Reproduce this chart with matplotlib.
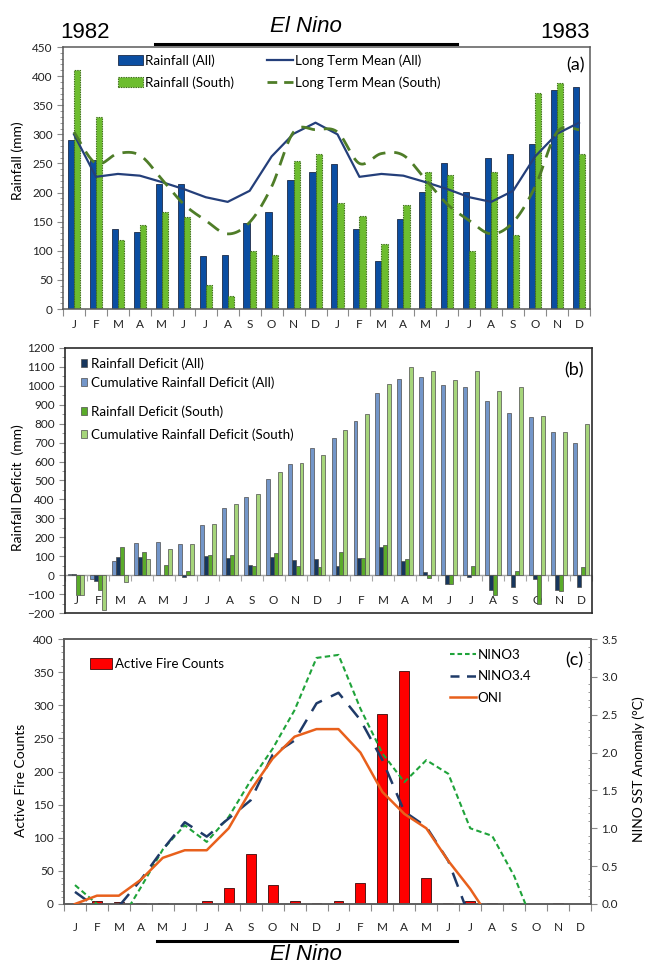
import numpy as np
import matplotlib
matplotlib.use("Agg")
import matplotlib.pyplot as plt
from matplotlib.patches import Patch
from matplotlib.lines import Line2D
from matplotlib.ticker import MultipleLocator, FixedLocator, FixedFormatter, NullFormatter, FormatStrFormatter

plt.rcParams['font.family'] = ['Lato', 'DejaVu Sans']

# ---------------- data ----------------
months = ['J', 'F', 'M', 'A', 'M', 'J', 'J', 'A', 'S', 'O', 'N', 'D',
          'J', 'F', 'M', 'A', 'M', 'J', 'J', 'A', 'S', 'O', 'N', 'D']

# (a) monthly rainfall, Jan 1982 - Dec 1983 (mm)
rain_all = [290, 256, 137, 133, 215, 215, 91, 92, 147, 166, 221, 236,
            249, 138, 83, 155, 201, 251, 201, 260, 267, 284, 376, 381]
rain_south = [410, 330, 119, 144, 166, 158, 41, 23, 100, 93, 254, 266,
              182, 159, 111, 179, 236, 231, 100, 235, 127, 371, 388, 267]
ltm_all = [300, 227, 232, 229, 218, 206, 192, 184, 203, 262, 301, 320,
           300, 227, 232, 229, 218, 206, 192, 184, 203, 262, 301, 320]
ltm_south = [304, 250, 267, 264, 223, 180, 152, 129, 149, 210, 304, 308,
             304, 250, 267, 264, 223, 180, 152, 129, 149, 210, 304, 308]

# (b) rainfall deficits (mm)
def_all = [5, -30, 95, 97, 3, -10, 100, 91, 56, 95, 81, 85,
           49, 90, 150, 77, 16, -46, -9, -76, -65, -23, -76, -62]
cum_all = [5, -20, 76, 170, 174, 164, 263, 357, 411, 506, 585, 671,
           722, 815, 963, 1037, 1048, 1004, 993, 919, 856, 833, 757, 697]
def_south = [-105, -80, 150, 120, 55, 22, 108, 105, 48, 117, 48, 42,
             121, 92, 158, 85, -16, -49, 49, -107, 23, -150, -85, 42]
cum_south = [-105, -185, -35, 85, 140, 163, 270, 375, 428, 546, 595, 637,
             766, 852, 1011, 1099, 1081, 1032, 1081, 972, 996, 840, 754, 798]

# (c) active fire counts and NINO SST anomalies (deg C)
fire_counts = [0, 4, 3, 2, 1, 0, 4, 24, 75, 28, 5, 2,
               4, 32, 287, 352, 39, 2, 5, 2, 1, 0, 1, 0]
nino3 = [0.25, 0.0, -0.26, 0.22, 0.72, 1.04, 0.82, 1.15, 1.63, 2.05, 2.56, 3.25,
         3.29, 2.58, 1.99, 1.61, 1.90, 1.72, 1.00, 0.90, 0.37, -0.35, -0.5, -0.5]
nino34 = [0.16, -0.05, -0.03, 0.32, 0.72, 1.08, 0.89, 1.13, 1.37, 1.97, 2.16, 2.65,
          2.79, 2.43, 1.90, 1.22, 1.02, 0.57, -0.2, -0.4, -0.5, -0.6, -0.7, -0.7]
oni = [0.0, 0.11, 0.11, 0.32, 0.61, 0.71, 0.71, 1.00, 1.50, 1.92, 2.21, 2.31,
       2.31, 2.00, 1.48, 1.19, 1.00, 0.57, 0.20, -0.24, -0.5, -0.8, -0.9, -0.8]


def smooth_curve(xv, yv, n=24):
    """Bezier-smoothed path through the points (spreadsheet-style smoothed line)."""
    pts = np.column_stack([xv, yv]).astype(float)
    P = np.vstack([pts[0], pts, pts[-1]])
    t = np.linspace(0, 1, n, endpoint=False)[:, None]
    out = []
    for i in range(1, len(P) - 2):
        p0, p1, p2, p3 = P[i - 1], P[i], P[i + 1], P[i + 2]
        c1 = p1 + (p2 - p0) / 6.0
        c2 = p2 - (p3 - p1) / 6.0
        seg = ((1 - t) ** 3) * p1 + 3 * (1 - t) ** 2 * t * c1 + 3 * (1 - t) * t ** 2 * c2 + t ** 3 * p2
        out.append(seg)
    out.append(pts[-1:])
    out = np.vstack(out)
    return out[:, 0], out[:, 1]


W, H = 646, 964
fig = plt.figure(figsize=(W / 100, H / 100), dpi=100)


def rect(l, t, r, b):
    return [l / W, 1 - b / H, (r - l) / W, (b - t) / H]


x = np.arange(len(months))
edges = np.arange(-0.5, len(months), 1.0)
TICK_FS = 8.5
LEG_FS = 9.6
LAB_FS = 10
FRAME = '#5a5a5a'


def month_axis(ax, pad):
    ax.set_xlim(-0.5, len(months) - 0.5)
    ax.xaxis.set_major_locator(FixedLocator(edges))
    ax.xaxis.set_major_formatter(NullFormatter())
    ax.xaxis.set_minor_locator(FixedLocator(x))
    ax.xaxis.set_minor_formatter(FixedFormatter(months))
    ax.tick_params(axis='x', which='minor', length=0, pad=pad, labelsize=TICK_FS, colors='#222222')
    ax.tick_params(axis='x', which='major', length=5, width=0.8, color='#8a8a8a', direction='out')


def frame(ax, color=FRAME, lw=1.1):
    for s in ax.spines.values():
        s.set_color(color)
        s.set_linewidth(lw)


# ---------------- (a) rainfall ----------------
ax_a = fig.add_axes(rect(63, 47, 590, 309))
bw = 0.28
ax_a.bar(x - bw / 2, rain_all, bw, color='#0b4ea2', edgecolor='#1c2b48', linewidth=0.6, zorder=2)
ax_a.bar(x + bw / 2, rain_south, bw, color='#6dbd2f', edgecolor='#3f6e1a', linewidth=0.8,
         linestyle=(0, (1.2, 1.0)), zorder=2)
ax_a.plot(x, ltm_all, color='#243f7a', linewidth=1.6, zorder=3)
sx, sy = smooth_curve(x, ltm_south)
ax_a.plot(sx, sy, color='#4f7d28', linewidth=2.0, dashes=(5, 3.2), zorder=3)
ax_a.set_ylim(0, 450)
ax_a.yaxis.set_major_locator(MultipleLocator(50))
ax_a.yaxis.set_minor_locator(MultipleLocator(10))
ax_a.tick_params(axis='y', which='major', length=4, labelsize=TICK_FS, color='#8a8a8a', colors='#222222')
ax_a.tick_params(axis='y', which='minor', length=2, color='#8a8a8a')
month_axis(ax_a, pad=7)
frame(ax_a)
handles_a = [Patch(facecolor='#0b4ea2', edgecolor='#1c2b48', linewidth=0.6),
             Patch(facecolor='#6dbd2f', edgecolor='#3f6e1a', linewidth=0.8, linestyle=(0, (1.2, 1.0))),
             Line2D([], [], color='#243f7a', linewidth=1.6),
             Line2D([], [], color='#4f7d28', linewidth=2.0, dashes=(3.5, 2.5))]
labels_a = ['Rainfall (All)', 'Rainfall (South)', 'Long Term Mean (All)', 'Long Term Mean (South)']
ax_a.legend(handles_a, labels_a, ncol=2, loc='upper left', bbox_to_anchor=(0.104, 0.972),
            frameon=False, fontsize=LEG_FS, handlelength=1.9, handleheight=0.8, handletextpad=0.15,
            columnspacing=2.5, labelspacing=0.7, borderaxespad=0, borderpad=0)
ax_a.text(0.99, 0.93, '(a)', transform=ax_a.transAxes, ha='right', va='center', fontsize=13)

# ---------------- (b) deficits ----------------
ax_b = fig.add_axes(rect(65, 348, 592, 613))
bw = 0.18
col_cum_all, col_def_all = '#7396c9', '#17365d'
col_def_south, col_cum_south = '#5aab2a', '#a6d57b'
series_b = [(cum_all, col_cum_all), (def_all, col_def_all), (def_south, col_def_south), (cum_south, col_cum_south)]
for k, (vals, col) in enumerate(series_b):
    ax_b.bar(x + (k - 1.5) * bw, vals, bw, color=col, edgecolor='#4d4d4d', linewidth=0.5, zorder=2)
ax_b.axhline(0, color='#a6a6a6', linewidth=1.0, zorder=1)
ax_b.set_ylim(-200, 1200)
ax_b.yaxis.set_major_locator(MultipleLocator(100))
ax_b.yaxis.set_minor_locator(MultipleLocator(50))
ax_b.tick_params(axis='y', which='major', length=4, labelsize=TICK_FS, color='#8a8a8a', colors='#222222')
ax_b.tick_params(axis='y', which='minor', length=2, color='#8a8a8a')
month_axis(ax_b, pad=-13)
ax_b.tick_params(axis='x', which='major', length=0)
zero_axis = ax_b.secondary_xaxis(200 / 1400)
zero_axis.set_xticks(edges)
zero_axis.xaxis.set_major_formatter(NullFormatter())
zero_axis.tick_params(axis='x', length=4, width=0.8, color='#a6a6a6', direction='out')
zero_axis.spines['bottom'].set_visible(False)
frame(ax_b, color='#2b2b2b', lw=1.2)
leg_kw = dict(loc='upper left', frameon=False, fontsize=LEG_FS, handlelength=0.5, handleheight=0.55,
              handletextpad=0.3, borderaxespad=0, borderpad=0)
leg_b1 = ax_b.legend([Patch(facecolor=col_def_all, edgecolor='#4d4d4d', linewidth=0.5),
                      Patch(facecolor=col_cum_all, edgecolor='#4d4d4d', linewidth=0.5)],
                     ['Rainfall Deficit (All)', 'Cumulative Rainfall Deficit (All)'],
                     bbox_to_anchor=(0.030, 0.966), labelspacing=0.5, **leg_kw)
ax_b.add_artist(leg_b1)
ax_b.legend([Patch(facecolor=col_def_south, edgecolor='#4d4d4d', linewidth=0.5),
             Patch(facecolor=col_cum_south, edgecolor='#4d4d4d', linewidth=0.5)],
            ['Rainfall Deficit (South)', 'Cumulative Rainfall Deficit (South)'],
            bbox_to_anchor=(0.030, 0.785), labelspacing=0.8, **leg_kw)
ax_b.text(0.985, 0.915, '(b)', transform=ax_b.transAxes, ha='right', va='center', fontsize=13)

# ---------------- (c) fires and NINO indices ----------------
ax_c = fig.add_axes(rect(64, 639, 591, 904))
ax_c.bar(x, fire_counts, 0.45, color='#ff0000', edgecolor='#3a0a0a', linewidth=0.6, zorder=2)
ax_c.set_ylim(0, 400)
ax_c.yaxis.set_major_locator(MultipleLocator(50))
ax_c.yaxis.set_minor_locator(MultipleLocator(10))
ax_c.tick_params(axis='y', which='major', length=4, labelsize=TICK_FS, color='#8a8a8a', colors='#222222')
ax_c.tick_params(axis='y', which='minor', length=2, color='#8a8a8a')
month_axis(ax_c, pad=13)
ax_r = ax_c.twinx()
ax_r.plot(x, nino3, color='#1fa33a', linewidth=1.5, dashes=(2.6, 1.6), zorder=3)
ax_r.plot(x, nino34, color='#1f3a68', linewidth=1.8, dashes=(6, 4), zorder=3)
ax_r.plot(x, oni, color='#e8601c', linewidth=1.8, zorder=3)
ax_r.set_ylim(0, 3.5)
ax_r.yaxis.set_major_locator(MultipleLocator(0.5))
ax_r.yaxis.set_minor_locator(MultipleLocator(0.1))
ax_r.yaxis.set_major_formatter(FormatStrFormatter('%.1f'))
ax_r.tick_params(axis='y', which='major', length=4, labelsize=TICK_FS, color='#8a8a8a', colors='#222222')
ax_r.tick_params(axis='y', which='minor', length=2, direction='in', color='#8a8a8a')
frame(ax_c)
frame(ax_r)
ax_c.legend([Patch(facecolor='#ff0000', edgecolor='#3a0a0a', linewidth=0.6)], ['Active Fire Counts'],
            loc='upper left', bbox_to_anchor=(0.049, 0.928), frameon=False, fontsize=LEG_FS,
            handlelength=1.7, handleheight=0.8, handletextpad=0.2, borderaxespad=0, borderpad=0)
ax_r.legend([Line2D([], [], color='#1fa33a', linewidth=1.5, dashes=(2.2, 1.4)),
             Line2D([], [], color='#1f3a68', linewidth=1.8, dashes=(3.6, 3.0)),
             Line2D([], [], color='#e8601c', linewidth=1.8)],
            ['NINO3', 'NINO3.4', 'ONI'],
            loc='upper left', bbox_to_anchor=(0.732, 0.962), frameon=False, fontsize=LEG_FS,
            handlelength=2.0, handletextpad=0.08, labelspacing=0.7, borderaxespad=0, borderpad=0)
ax_r.text(0.985, 0.92, '(c)', transform=ax_r.transAxes, ha='right', va='center', fontsize=13)

# ---------------- axis titles ----------------
fig.text(18 / W, 1 - 161 / H, 'Rainfall (mm)', rotation=90, ha='center', va='center', fontsize=LAB_FS)
fig.text(18 / W, 1 - 488 / H, 'Rainfall Deficit  (mm)', rotation=90, ha='center', va='center', fontsize=LAB_FS)
fig.text(21 / W, 1 - 780 / H, 'Active Fire Counts', rotation=90, ha='center', va='center', fontsize=LAB_FS)
fig.text(639 / W, 1 - 769 / H, 'NINO SST Anomaly (\u00b0C)', rotation=90, ha='center', va='center', fontsize=LAB_FS)

# ---------------- period annotations ----------------
hdr = ['Liberation Sans', 'DejaVu Sans']
fig.text(85 / W, 1 - 33 / H, '1982', ha='center', va='center', fontsize=16, family=hdr)
fig.text(565 / W, 1 - 33 / H, '1983', ha='center', va='center', fontsize=16, family=hdr)
fig.text(306 / W, 1 - 27 / H, 'El Nino', ha='center', va='center', fontsize=16, style='italic', family=hdr)
fig.add_artist(Line2D([155 / W, 457 / W], [1 - 44 / H, 1 - 44 / H], color='black', linewidth=2.2))
fig.add_artist(Line2D([157 / W, 457 / W], [1 - 941 / H, 1 - 941 / H], color='black', linewidth=2.2))
fig.text(306 / W, 1 - 954 / H, 'El Nino', ha='center', va='center', fontsize=16, style='italic', family=hdr)

fig.savefig('out.png', dpi=100, facecolor='white')
